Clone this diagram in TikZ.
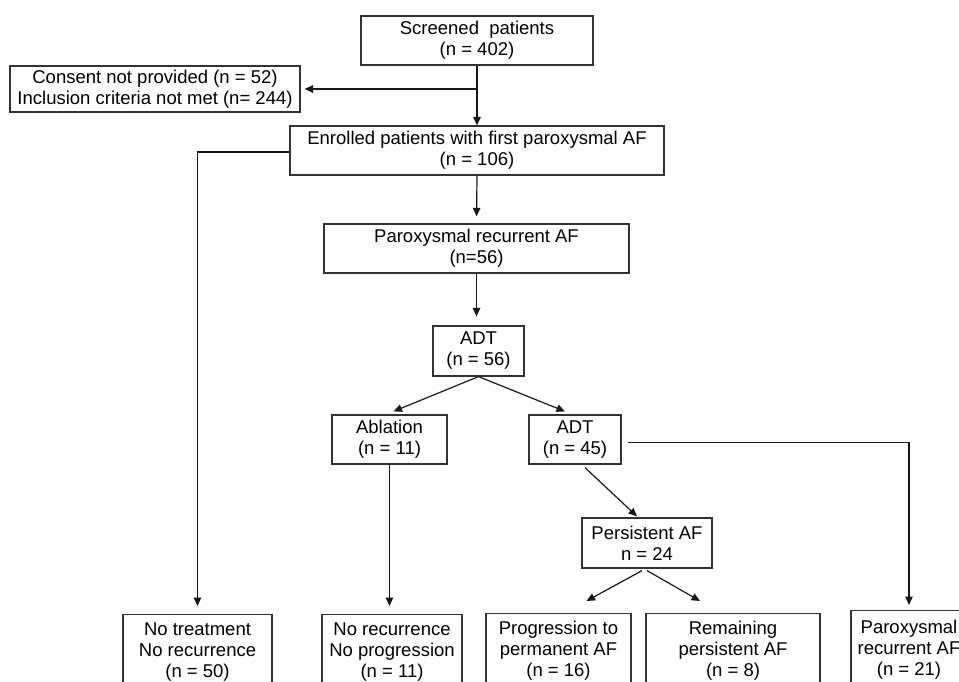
\documentclass[tikz,border=0pt]{standalone}
\usepackage{fontspec}
\setmainfont{Liberation Sans}
\usetikzlibrary{arrows.meta,calc}
\begin{document}
\begin{tikzpicture}[x=1pt,y=-1pt,
  box/.style={draw=black!80,line width=1.2pt,inner sep=0pt,align=center,
    font=\fontsize{18.5}{21}\selectfont,text=black},
  arr/.style={draw=black!90,line width=1.2pt,-{Triangle[length=8.5pt,width=7.5pt]}},
  ln/.style={draw=black!90,line width=1.2pt}]
\useasboundingbox (0,0) rectangle (959,682);
\clip (0,0) rectangle (959,682);
\fill[white] (0,0) rectangle (959,682);
% boxes
\node[box,minimum width=232,minimum height=49] (scr) at (477,40.5) {Screened\ \ patients\\(n = 402)};
\node[box,minimum width=290,minimum height=46] (cons) at (155,89) {Consent not provided (n = 52)\\Inclusion criteria not met (n= 244)};
\node[box,minimum width=374,minimum height=49] (enr) at (477,150.5) {Enrolled patients with first paroxysmal AF\\(n = 106)};
\node[box,minimum width=305,minimum height=49] (par) at (476.5,248.5) {Paroxysmal recurrent AF\\(n=56)};
\node[box,minimum width=91,minimum height=50] (adt) at (478.5,351) {ADT\\(n = 56)};
\node[box,minimum width=115,minimum height=49] (abl) at (389.5,439.5) {Ablation\\(n = 11)};
\node[box,minimum width=92,minimum height=49] (adtb) at (575,439.5) {ADT\\(n = 45)};
\node[box,minimum width=130,minimum height=50] (pers) at (647,543) {Persistent AF\\n = 24};
% bottom boxes (cut by the frame)
\node[box,minimum width=149,minimum height=75,anchor=north] (nt) at (197.5,614) {No treatment\\No recurrence\\(n = 50)};
\node[box,minimum width=140,minimum height=75,anchor=north] (nr) at (392,614) {No recurrence\\No progression\\(n = 11)};
\node[box,minimum width=145,minimum height=75,anchor=north] (prog) at (558.5,613) {Progression to\\permanent AF\\(n = 16)};
\node[box,minimum width=174,minimum height=75,anchor=north] (rem) at (733,613) {Remaining\\persistent AF\\(n = 8)};
\node[box,minimum width=116,minimum height=79,anchor=north] (prx) at (909,610) {Paroxysmal\\recurrent AF\\(n = 21)};
% connectors
\draw[arr] (scr.south) -- (enr.north);
\coordinate (split) at (scr.south |- cons.east);
\draw[arr,shorten >=4pt] (split) -- (cons.east);
\draw[arr,shorten >=8pt] ($(enr.west)+(0,1.5)$) -| (nt.north);
\draw[arr,shorten >=7pt] (enr.south) -- (par.north);
\draw[arr,shorten >=9pt] (par.south) -- (par.south |- adt.north);
\draw[arr] (adt.south) -- ($(abl.north)+(4,-3)$);
\draw[arr] (adt.south) -- ($(adtb.north)+(-10,-3)$);
\draw[arr,shorten >=8pt] (abl.south) -- (abl.south |- nr.north);
\draw[arr] ($(adtb.south)+(10,3)$) -- ($(pers.north)+(-10,-1)$);
\draw[arr] ($(pers.south)+(-5,2)$) -- ($(prog.north)+(28,-12)$);
\draw[arr] ($(pers.south)+(0,2)$) -- ($(rem.north)+(-33,-12)$);
\draw[arr,shorten >=5pt] ($(adtb.east)+(6,3)$) -| (prx.north);
\end{tikzpicture}
\end{document}
